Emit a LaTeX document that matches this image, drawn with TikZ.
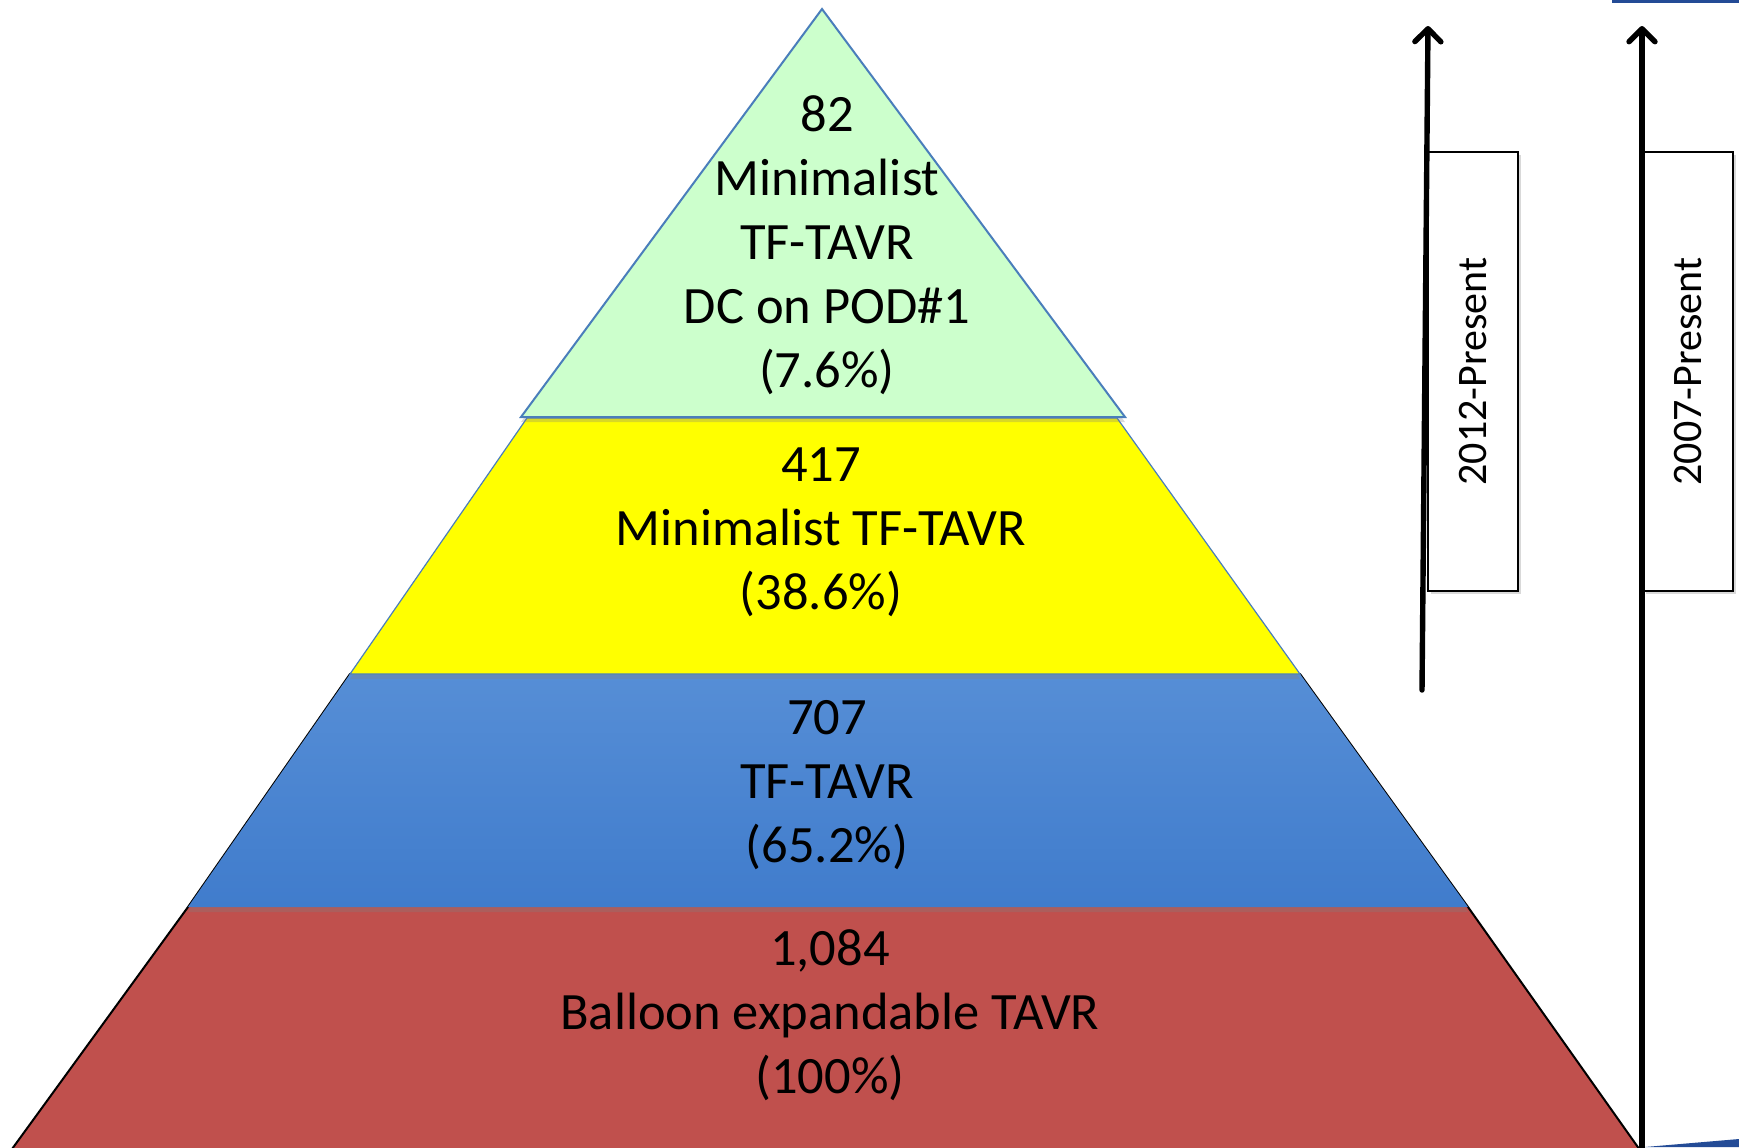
\documentclass[tikz,border=0pt]{standalone}
\usepackage{fontspec}
\setmainfont{Carlito}
\usetikzlibrary{arrows.meta}
\usetikzlibrary{shadows}
\definecolor{tiergreen}{RGB}{204,255,204}
\definecolor{tieryellow}{RGB}{255,255,0}
\definecolor{tierbluetop}{RGB}{86,142,214}
\definecolor{tierbluebot}{RGB}{64,124,204}
\definecolor{tierred}{RGB}{192,80,77}
\definecolor{edgeblue}{RGB}{74,126,187}
\definecolor{slideblue}{RGB}{35,75,150}

\begin{document}
\begin{tikzpicture}[x=.5pt,y=-.5pt,
    tiertext/.style={align=center,font=\fontsize{26.25}{32}\selectfont},
    tiershadow/.style={drop shadow={shadow xshift=0pt,shadow yshift=-2.5pt,opacity=.3}},
    datebox/.style={draw,line width=1pt,fill=white,rotate=90,
      minimum width=219.5pt,minimum height=45pt,inner sep=0pt,
      font=\fontsize{21}{25}\selectfont,
      drop shadow={shadow xshift=1.5pt,shadow yshift=-1.5pt,opacity=.3}},
    timeline/.style={line width=2.7pt,line cap=round,
      -{Straight Barb[length=6.5pt,width=13pt,round]}}]
  \useasboundingbox (0,0) rectangle (1739,1147);
  % base tier, its black rim runs up behind the blue one
  \filldraw[fill=tierred,draw=black,line width=1pt]
    (350,674) -- (188,907) -- (4,1160) -- (1647,1160) -- (1468,907) -- (1300,674) -- cycle;
  \path[tiershadow,top color=tierbluetop,bottom color=tierbluebot]
    (350,674) -- (188,907) -- (1468,907) -- (1300,674) -- cycle;
  \filldraw[tiershadow,fill=tieryellow,draw=edgeblue,line width=.6pt]
    (527,418) -- (350,674) -- (1300,674) -- (1117,418) -- cycle;
  \filldraw[tiershadow,fill=tiergreen,draw=edgeblue,line width=1pt]
    (822,9) -- (521,417) -- (1125,417) -- cycle;

  % tier labels
  \node (apex) [tiertext] at (827,245) {82\\Minimalist\\TF-TAVR\\DC on POD\#1\\(7.6\%)};
  \node (mid) [tiertext] at (821,532) {417\\Minimalist TF-TAVR\\(38.6\%)};
  \node (low) [tiertext] at (827,785) {707\\TF-TAVR\\(65.2\%)};
  \node (base) [tiertext] at (830,1015) {1,084\\Balloon expandable TAVR\\(100\%)};

  % time arrows
  \coordinate (s12) at (1422,690);
  \coordinate (e12) at (1428,26);
  \coordinate (s07) at (1642,1160);
  \coordinate (e07) at (1642,26);
  \node (b12) [datebox] at (1473,371.5) {2012-Present};
  \node (b07) [datebox] at (1688,371.5) {2007-Present};
  \draw[timeline] (s12) -- (e12);
  \draw[timeline] (s07) -- (e07);

  % slide edges
  \fill[slideblue] (1612,0) rectangle (1739,3);
  \fill[slideblue] (1645,1147) -- (1739,1139) -- (1739,1147) -- cycle;
\end{tikzpicture}
\end{document}
